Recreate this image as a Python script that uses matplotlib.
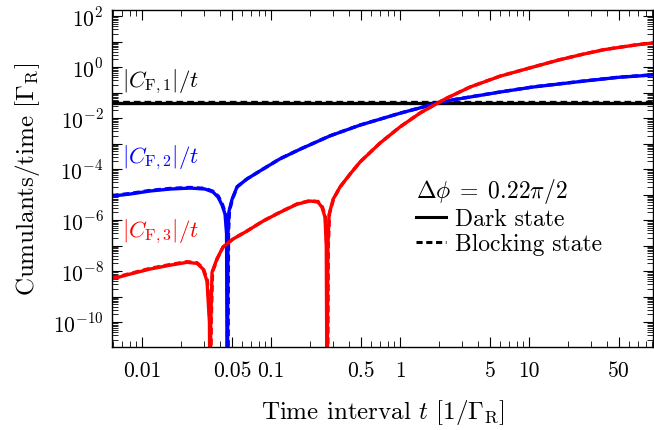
import math
import matplotlib
matplotlib.use("Agg")
import matplotlib.pyplot as plt
from matplotlib.lines import Line2D
from matplotlib.ticker import FixedLocator, FuncFormatter, LogLocator, NullFormatter

plt.rcParams['font.family'] = 'serif'
plt.rcParams['font.serif'] = ['cmr10', 'DejaVu Serif']
plt.rcParams['mathtext.fontset'] = 'cm'
plt.rcParams['axes.formatter.use_mathtext'] = True
plt.rcParams['axes.unicode_minus'] = False

# ---------------- data ----------------
# Time interval t [1/Gamma_R]
t_blue = [0.00585, 0.00807, 0.01153, 0.0165, 0.0236, 0.0308, 0.0355, 0.0388, 0.0417,
          0.0440, 0.0452, 0.0458, 0.0464, 0.0472, 0.0499, 0.0545, 0.0651, 0.0867,
          0.117, 0.168, 0.286, 0.49, 1.0, 2.23, 5.96, 10.7, 26.2, 50.0, 91.4]
c2_dark = [8.7e-6, 1.05e-5, 1.38e-5, 1.65e-5, 1.8e-5, 1.65e-5, 1.26e-5, 8e-6, 3.9e-6,
           1.7e-6, 3e-7, 1e-14, 3e-7, 2.2e-6, 6.6e-6, 2e-5, 4.1e-5, 1e-4,
           2.5e-4, 6e-4, 2e-3, 5.3e-3, 0.0155, 0.046, 0.105, 0.165, 0.28, 0.40, 0.49]
t_blue_block = [0.00585, 0.00807, 0.01153, 0.0165, 0.0236, 0.0308, 0.0357, 0.0391, 0.0420,
                0.0444, 0.0456, 0.0462, 0.0468, 0.0476, 0.0503, 0.0548, 0.0653, 0.0869,
                0.117, 0.168, 0.286, 0.49, 1.0, 2.23, 5.96, 10.7, 26.2, 50.0, 91.4]
c2_block = [9.2e-6, 1.1e-5, 1.45e-5, 1.74e-5, 1.9e-5, 1.75e-5, 1.33e-5, 8.5e-6, 4.1e-6,
            1.8e-6, 3.2e-7, 1e-14, 3.2e-7, 2.3e-6, 6.9e-6, 2.06e-5, 4.15e-5, 1.01e-4,
            2.52e-4, 6.05e-4, 2.02e-3, 5.35e-3, 0.0156, 0.0465, 0.106, 0.167, 0.283, 0.405, 0.50]

t_red = [0.00585, 0.00807, 0.01153, 0.0165, 0.0223, 0.0267, 0.0297, 0.0319, 0.0333,
         0.0337, 0.0341, 0.0349, 0.0381, 0.0424, 0.0507, 0.0651, 0.0867, 0.117, 0.159,
         0.200, 0.231, 0.248, 0.262, 0.268, 0.272, 0.276, 0.282, 0.303, 0.343, 0.409,
         0.49, 0.70, 1.0, 1.43, 2.23, 3.49, 5.96, 10.7, 17.0, 26.2, 38.0, 50.7, 70.0, 91.4]
c3_dark = [4.9e-9, 7.6e-9, 1.2e-8, 1.7e-8, 2.2e-8, 2.0e-8, 1.2e-8, 4e-9, 1e-10,
           1e-14, 1e-10, 9e-9, 3e-8, 8.7e-8, 1.8e-7, 3.7e-7, 9.1e-7, 2.0e-6, 4.2e-6,
           5.6e-6, 5.1e-6, 3.2e-6, 1.3e-6, 1e-7, 1e-14, 1e-7, 1.7e-6, 6.6e-6, 2e-5, 6.3e-5,
           1.9e-4, 1.05e-3, 4.5e-3, 0.0158, 0.056, 0.165, 0.44, 1.0, 1.9, 3.2, 4.8, 6.0, 7.6, 8.8]
t_red_block = [0.00585, 0.00807, 0.01153, 0.0165, 0.0223, 0.0267, 0.0298, 0.0321, 0.0336,
               0.0340, 0.0344, 0.0352, 0.0383, 0.0426, 0.0509, 0.0652, 0.0868, 0.117, 0.159,
               0.200, 0.232, 0.250, 0.264, 0.270, 0.274, 0.278, 0.284, 0.305, 0.344, 0.410,
               0.49, 0.70, 1.0, 1.43, 2.23, 3.49, 5.96, 10.7, 17.0, 26.2, 38.0, 50.7, 70.0, 91.4]
c3_block = [5.2e-9, 8.0e-9, 1.27e-8, 1.8e-8, 2.33e-8, 2.12e-8, 1.3e-8, 4.3e-9, 1.1e-10,
            1e-14, 1.1e-10, 9.3e-9, 3.05e-8, 8.9e-8, 1.83e-7, 3.75e-7, 9.2e-7, 2.03e-6, 4.3e-6,
            5.8e-6, 5.3e-6, 3.3e-6, 1.35e-6, 1.05e-7, 1e-14, 1.05e-7, 1.75e-6, 6.7e-6, 2.03e-5, 6.35e-5,
            1.91e-4, 1.055e-3, 4.52e-3, 0.0159, 0.0565, 0.166, 0.443, 1.005, 1.92, 3.23, 4.85, 6.06, 7.68, 8.9]

t_black = [0.00585, 91.4]
c1_dark = [0.040, 0.040]
c1_block = [0.041, 0.041]

xticks = [0.01, 0.05, 0.1, 0.5, 1, 5, 10, 50]
xticklabels = ['0.01', '0.05', '0.1', '0.5', '1', '5', '10', '50']

# ---------------- figure ----------------
fig = plt.figure(figsize=(6.54, 4.31), dpi=100)
ax = fig.add_axes([112/654, 1-348/431, 541/654, 337/431])

lw = 2.4
dash = (0, (2.0, 1.2))
ax.plot(t_black, c1_dark, color='black', lw=lw, solid_capstyle='butt')
ax.plot(t_black, c1_block, color='black', lw=lw, ls=dash)
ax.plot(t_blue, c2_dark, color='#0000ff', lw=lw)
ax.plot(t_blue_block, c2_block, color='#0000ff', lw=lw, ls=dash)
ax.plot(t_red, c3_dark, color='#ff0000', lw=lw)
ax.plot(t_red_block, c3_block, color='#ff0000', lw=lw, ls=dash)

ax.set_xscale('log')
ax.set_yscale('log')
ax.set_xlim(0.00585, 91.4)
ax.set_ylim(1.05e-11, 10**2.24)

ax.xaxis.set_major_locator(FixedLocator(xticks))
ax.xaxis.set_major_formatter(FuncFormatter(
    lambda v, p: xticklabels[xticks.index(v)] if v in xticks else ''))
ax.xaxis.set_minor_locator(LogLocator(base=10, subs=[2, 3, 4, 6, 7, 8, 9], numticks=50))
ax.xaxis.set_minor_formatter(NullFormatter())

ax.yaxis.set_major_locator(LogLocator(base=10, subs=[1.0], numticks=50))
def yfmt(v, p):
    e = int(round(math.log10(v)))
    if e % 2 == 0:
        return r'$10^{%d}$' % e
    return ''
ax.yaxis.set_major_formatter(FuncFormatter(yfmt))
ax.yaxis.set_minor_locator(LogLocator(base=10, subs=[2, 3, 4, 5, 6, 7, 8, 9], numticks=50))
ax.yaxis.set_minor_formatter(NullFormatter())

ax.tick_params(which='both', direction='in', top=True, right=True, labelsize=15.5)
ax.tick_params(which='major', length=7, width=0.8)
ax.tick_params(which='minor', length=4, width=0.6)
ax.tick_params(axis='x', pad=10)
ax.tick_params(axis='y', pad=6)

for s in ax.spines.values():
    s.set_linewidth(1.0)

ax.set_xlabel(r'Time interval $t$ $[1/\Gamma_{\mathrm{R}}]$', fontsize=18, labelpad=12)
ax.set_ylabel(r'Cumulants/time $[\Gamma_{\mathrm{R}}]$', fontsize=18, labelpad=8)

ax.text(0.018, 0.789, r'$|C_{\mathrm{F},1}|/t$', transform=ax.transAxes, fontsize=16.5,
        color='black', va='center', ha='left')
ax.text(0.018, 0.564, r'$|C_{\mathrm{F},2}|/t$', transform=ax.transAxes, fontsize=16.5,
        color='#0000ff', va='center', ha='left')
ax.text(0.018, 0.344, r'$|C_{\mathrm{F},3}|/t$', transform=ax.transAxes, fontsize=16.5,
        color='#ff0000', va='center', ha='left')

handles = [Line2D([], [], color='black', lw=2.2),
           Line2D([], [], color='black', lw=2.2, ls=dash)]
leg = ax.legend(handles, ['Dark state', 'Blocking state'], loc='upper left',
                bbox_to_anchor=(0.545, 0.535), frameon=False, fontsize=17,
                title=r'$\Delta\phi\;=\;0.22\pi/2$', title_fontsize=17,
                handlelength=1.25, handletextpad=0.4, labelspacing=0.12,
                borderaxespad=0.0, alignment='left')

fig.savefig('out.png', dpi=100)
